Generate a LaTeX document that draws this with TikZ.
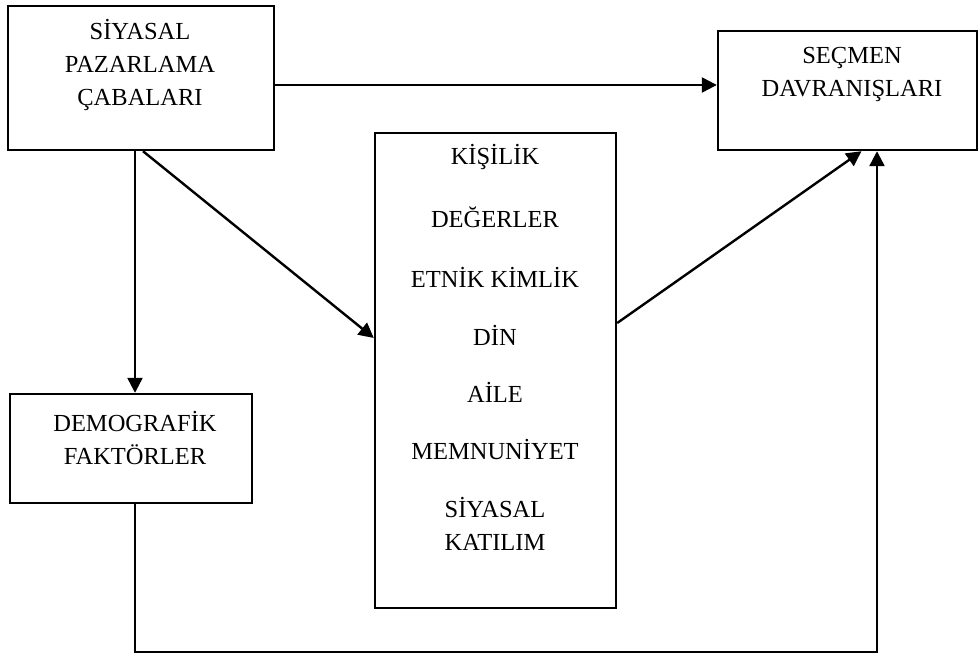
\documentclass[tikz,border=0pt]{standalone}
\usepackage{fontspec}
\setmainfont{Liberation Serif}
\usetikzlibrary{arrows.meta}
\begin{document}
\begin{tikzpicture}[x=1pt,y=-1pt,
  box/.style={draw, line width=2.4pt, rectangle, inner sep=0pt},
  lbl/.style={font=\fontsize{24.5}{33}\selectfont, align=center, inner sep=0pt},
  conn/.style={line width=2.4pt},
  arr/.style={conn, -{Triangle[length=15pt,width=15pt]}}]
\useasboundingbox (0,0) rectangle (979,655);

% boxes
\node[box, minimum width=266pt, minimum height=144pt] (spc) at (141,78) {};
\node[box, minimum width=259pt, minimum height=119pt] (sec) at (847.5,90.5) {};
\node[box, minimum width=241pt, minimum height=475pt] (mid) at (495.5,370.5) {};
\node[box, minimum width=242pt, minimum height=109pt] (dem) at (131,448.5) {};

% box texts
\node[lbl, anchor=center] (spcT) at (140,65) {SİYASAL\\PAZARLAMA\\ÇABALARI};
\node[lbl, anchor=center] (secT) at (852,74) {SEÇMEN\\DAVRANIŞLARI};
\node[lbl, anchor=center] (demT) at (135,438) {DEMOGRAFİK\\FAKTÖRLER};
\node[lbl] (m1) at (495,157) {KİŞİLİK};
\node[lbl] (m2) at (495,217) {DEĞERLER};
\node[lbl] (m3) at (495,277) {ETNİK KİMLİK};
\node[lbl] (m4) at (495,335) {DİN};
\node[lbl] (m5) at (495,392) {AİLE};
\node[lbl] (m6) at (495,450) {MEMNUNİYET};
\node[lbl] (m7) at (495,524) {SİYASAL\\KATILIM};

% connectors
\draw[arr] ([yshift=-7pt]spc.east) -- ([yshift=5.5pt]sec.west);
\draw[arr] ([xshift=-6pt]spc.south) -- ([xshift=-6pt]spc.south |- dem.north);
\draw[arr] ([xshift=2pt]spc.south) -- ([yshift=32.5pt]mid.west);
\draw[arr] ([yshift=47.5pt]mid.east) -- ([xshift=14pt]sec.south);
\draw[arr] ([xshift=4pt]dem.south) -- ++(0,148) -| ([xshift=29.5pt]sec.south);
\end{tikzpicture}
\end{document}
